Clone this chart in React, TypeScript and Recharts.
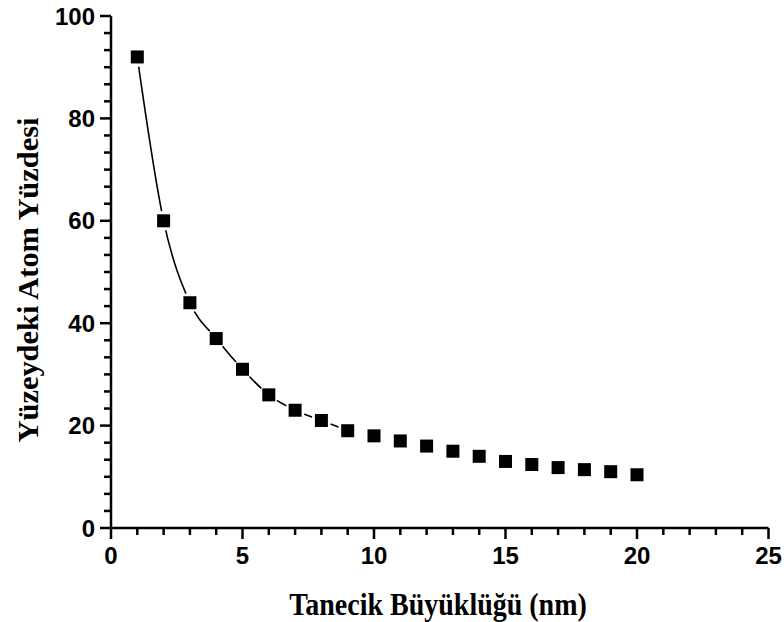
import React from 'react';
import { ComposedChart, Line, Scatter, XAxis, YAxis } from 'recharts';

// Particle size (nm)
const sizes = [1, 2, 3, 4, 5, 6, 7, 8, 9, 10, 11, 12, 13, 14, 15, 16, 17, 18, 19, 20];
// Surface atom percentage
const surfacePct = [92, 60, 44, 37, 31, 26, 23, 21, 19, 18, 17, 16, 15, 14, 13, 12.4, 11.8, 11.4, 11, 10.4];
// the drawn curve only covers the first points
const curveLastSize = 9;

const xMajorTicks = [0, 5, 10, 15, 20, 25];
const yMajorTicks = [0, 20, 40, 60, 80, 100];
const xMinorPerMajor = 5;
const yMinorPerMajor = 6;

const xTitle = 'Tanecik Büyüklüğü (nm)';
const yTitle = 'Yüzeydeki Atom Yüzdesi';

function withMinor(majors: number[], n: number): number[] {
  const out: number[] = [];
  for (let i = 0; i < majors.length - 1; i++) {
    const a = majors[i];
    const b = majors[i + 1];
    for (let k = 0; k < n; k++) out.push(a + ((b - a) * k) / n);
  }
  out.push(majors[majors.length - 1]);
  return out;
}

const xTicks = withMinor(xMajorTicks, xMinorPerMajor);
const yTicks = withMinor(yMajorTicks, yMinorPerMajor);

const data = sizes.map((s, i) => ({
  x: s,
  y: surfacePct[i],
  fit: s <= curveLastSize ? surfacePct[i] : null,
}));

const tickFont = '"Liberation Sans", Arial, sans-serif';
const titleFont = '"Liberation Serif", "Times New Roman", serif';
const tickColor = '#000';

const XTick = (props: any) => {
  const { x, y, index, payload } = props;
  const major = index % xMinorPerMajor === 0;
  const len = major ? 11 : 7;
  return (
    <g>
      <rect x={x - 1.25} y={y} width={2.5} height={len} fill={tickColor} />
      {major && (
        <text x={x} y={y + 36} textAnchor="middle" fontFamily={tickFont} fontWeight="bold" fontSize={24} fill="#000">
          {Math.round(payload.value)}
        </text>
      )}
    </g>
  );
};

const YTick = (props: any) => {
  const { x, y, index, payload } = props;
  const major = index % yMinorPerMajor === 0;
  const len = major ? 11 : 7;
  return (
    <g>
      <rect x={x - len} y={y - 1.25} width={len} height={2.5} fill={tickColor} />
      {major && (
        <text x={x - 16} y={y} dy="0.36em" textAnchor="end" fontFamily={tickFont} fontWeight="bold" fontSize={24} fill="#000">
          {Math.round(payload.value)}
        </text>
      )}
    </g>
  );
};

const XTitle = () => (
  <text
    x={0}
    y={0}
    transform="translate(438, 615) scale(1, 1.12)"
    textAnchor="middle"
    fontFamily={titleFont}
    fontWeight="bold"
    fontSize={28}
    fill="#000"
  >
    {xTitle}
  </text>
);

const YTitle = () => (
  <text
    x={0}
    y={0}
    transform="translate(38, 280) rotate(-90)"
    textAnchor="middle"
    textLength={325}
    lengthAdjust="spacingAndGlyphs"
    fontFamily={titleFont}
    fontWeight="bold"
    fontSize={29}
    fill="#000"
  >
    {yTitle}
  </text>
);

const SquareMark = (props: any) => {
  const { cx, cy } = props;
  return (
    <g>
      <circle cx={cx} cy={cy} r={10} fill="#fff" />
      <rect x={cx - 6.5} y={cy - 6.5} width={13} height={13} fill="#000" />
    </g>
  );
};

export default function App() {
  return (
    <div style={{ position: 'absolute', left: 0, top: 0, width: 784, height: 622, background: '#fff' }}>
      <ComposedChart width={784} height={622} data={data} margin={{ top: 16, right: 15.5, bottom: 0, left: 0 }}>
        <XAxis
          type="number"
          dataKey="x"
          domain={[0, 25]}
          ticks={xTicks}
          interval={0}
          height={94}
          tickSize={0}
          tickMargin={0}
          tickLine={false}
          axisLine={{ stroke: '#000', strokeWidth: 2.5 }}
          tick={<XTick />}
          label={{ content: XTitle }}
        />
        <YAxis
          type="number"
          domain={[0, 100]}
          ticks={yTicks}
          interval={0}
          width={111}
          tickSize={0}
          tickMargin={0}
          tickLine={false}
          axisLine={{ stroke: '#000', strokeWidth: 2.5 }}
          tick={<YTick />}
          label={{ content: YTitle }}
        />
        <Line
          dataKey="fit"
          type="monotone"
          stroke="#000"
          strokeWidth={1.6}
          dot={false}
          activeDot={false}
          connectNulls={false}
          isAnimationActive={false}
        />
        <Scatter dataKey="y" shape={<SquareMark />} isAnimationActive={false} />
      </ComposedChart>
    </div>
  );
}
